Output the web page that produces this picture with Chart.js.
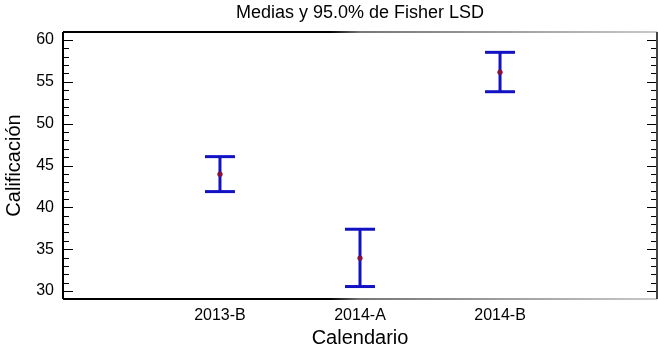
<!DOCTYPE html>
<html>
<head>
<meta charset="utf-8">
<script src="https://cdn.jsdelivr.net/npm/chart.js@4.4.1/dist/chart.umd.min.js"></script>
<style>
  html, body { margin: 0; padding: 0; background: #ffffff; }
  #wrap { width: 658px; height: 351px; }
</style>
</head>
<body>
<div id="wrap"><canvas id="c" width="658" height="351"></canvas></div>
<script>
// ---- data ----
const categories = ['2013-B', '2014-A', '2014-B'];
const means = [43.96, 33.93, 56.16];
const lower = [41.88, 30.53, 53.82];
const upper = [46.06, 37.38, 58.53];
const yTickValues = [30, 35, 40, 45, 50, 55, 60];
const titleText = 'Medias y 95.0% de Fisher LSD';
const xTitle = 'Calendario';
const yTitle = 'Calificación';

// ---- build datasets from the arrays ----
const xPos = categories.map((c, i) => i + 1);
const meanPts = xPos.map((x, i) => ({ x: x, y: means[i] }));
const capPts = [];
const stemPts = [];
xPos.forEach((x, i) => {
  capPts.push({ x: x, y: lower[i] }, { x: x, y: upper[i] });
  stemPts.push({ x: x, y: lower[i] }, { x: x, y: upper[i] }, { x: x + 0.5, y: null });
});

const FONT = '"Liberation Sans", Arial, Helvetica, sans-serif';
const BLUE = '#1212c4';
const MAROON = '#86103e';

const framePlugin = {
  id: 'frame',
  afterDatasetsDraw(chart) {
    const { ctx, chartArea: a, scales: { y } } = chart;
    ctx.save();
    // inward ticks on left and right
    ctx.strokeStyle = '#000';
    ctx.lineWidth = 1;
    for (let v = Math.ceil(y.min); v <= Math.floor(y.max); v++) {
      const py = Math.round(y.getPixelForValue(v)) + 0.5;
      const len = (v % 5 === 0) ? 10 : 6;
      ctx.beginPath();
      ctx.moveTo(a.left, py); ctx.lineTo(a.left + len, py);
      ctx.moveTo(a.right, py); ctx.lineTo(a.right - len, py);
      ctx.stroke();
    }
    // frame
    const g = ctx.createLinearGradient(a.left, 0, a.right, 0);
    g.addColorStop(0, '#000');
    g.addColorStop(0.45, '#000');
    g.addColorStop(0.5, '#777');
    g.addColorStop(1, '#c8c8c8');
    ctx.lineWidth = 2;
    ctx.strokeStyle = g;
    ctx.beginPath();
    ctx.moveTo(a.left, a.top); ctx.lineTo(a.right, a.top);
    ctx.moveTo(a.left, a.bottom); ctx.lineTo(a.right, a.bottom);
    ctx.stroke();
    ctx.strokeStyle = '#000';
    ctx.beginPath();
    ctx.moveTo(a.left, a.top); ctx.lineTo(a.left, a.bottom);
    ctx.stroke();
    ctx.strokeStyle = '#444';
    ctx.beginPath();
    ctx.moveTo(a.right, a.top); ctx.lineTo(a.right, a.bottom);
    ctx.stroke();
    ctx.restore();
  }
};

new Chart(document.getElementById('c'), {
  type: 'scatter',
  data: {
    datasets: [
      { label: 'means', data: meanPts, pointRadius: 2.6, pointBackgroundColor: MAROON,
        pointBorderWidth: 0, showLine: false },
      { label: 'caps', data: capPts, pointStyle: 'line', pointRadius: 15,
        pointBorderColor: BLUE, pointBorderWidth: 3, showLine: false },
      { label: 'stems', data: stemPts, showLine: true, spanGaps: false, pointRadius: 0,
        borderColor: BLUE, borderWidth: 3 }
    ]
  },
  options: {
    responsive: false,
    animation: false,
    events: [],
    layout: { autoPadding: false, padding: { left: 0, right: 1, top: 0, bottom: 0 } },
    plugins: {
      legend: { display: false },
      tooltip: { enabled: false },
      title: {
        display: true, text: titleText, color: '#000', fullSize: false,
        font: { family: FONT, size: 18, weight: 'normal' },
        padding: { top: 2, bottom: 8.4 }
      }
    },
    scales: {
      x: {
        type: 'linear', min: -0.121, max: 4.121,
        grid: { display: false, drawTicks: false }, border: { display: false },
        afterBuildTicks(scale) { scale.ticks = xPos.map(v => ({ value: v })); },
        afterFit(scale) { scale.height = 52; },
        ticks: {
          color: '#000', font: { family: FONT, size: 16 }, padding: 7,
          maxRotation: 0, autoSkip: false,
          callback: (v) => categories[Math.round(v) - 1] || ''
        },
        title: { display: true, text: xTitle, color: '#000',
          font: { family: FONT, size: 20 }, padding: { top: 0, bottom: 1 } }
      },
      y: {
        type: 'linear', min: 29.04, max: 60.96,
        grid: { display: false, drawTicks: false }, border: { display: false },
        afterBuildTicks(scale) { scale.ticks = yTickValues.map(v => ({ value: v })); },
        afterFit(scale) { scale.width = 63; },
        ticks: { color: '#000', font: { family: FONT, size: 16 }, padding: 9 },
        title: { display: true, text: yTitle, color: '#000',
          font: { family: FONT, size: 20 }, padding: { top: 2, bottom: 0 } }
      }
    }
  },
  plugins: [framePlugin]
});
</script>
</body>
</html>
